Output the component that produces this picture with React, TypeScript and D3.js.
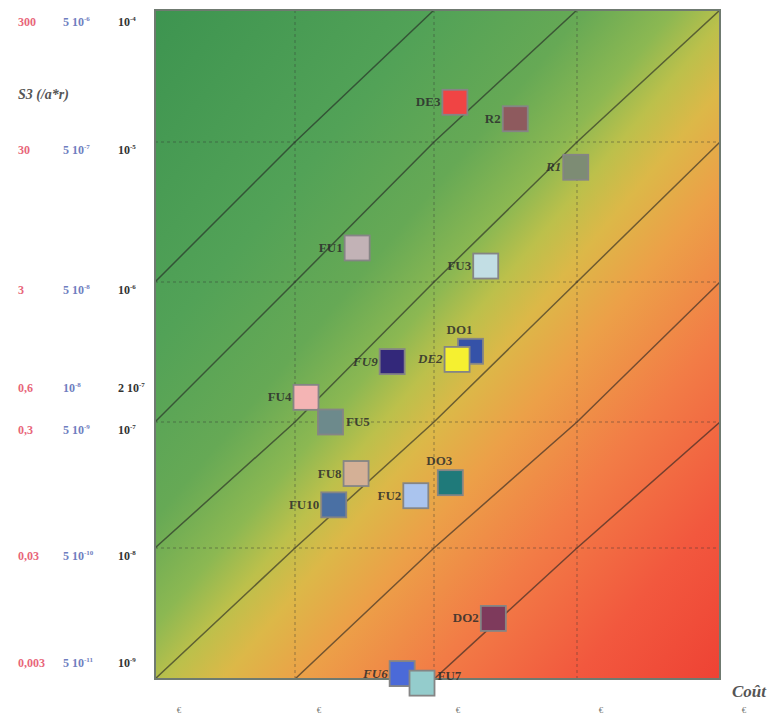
import * as d3 from "d3";
import React from "react";

// options (x) : coût, S3 (y)
const names = ["DE3", "R2", "R1", "FU1", "FU3", "FU9", "DO1", "DE2", "FU4", "FU5", "FU8", "DO3", "FU2", "FU10", "DO2", "FU6", "FU7"];
const costs = [1.4e5, 3.7e5, 9.8e5, 2.8e4, 2.3e5, 5.0e4, 1.8e5, 1.45e5, 1.2e4, 1.8e4, 2.75e4, 1.3e5, 7.4e4, 1.9e4, 2.6e5, 5.9e4, 8.2e4];
const s3 = [2.0e-5, 1.5e-5, 6.6e-6, 1.75e-6, 1.3e-6, 2.7e-7, 3.2e-7, 2.8e-7, 1.5e-7, 1.0e-7, 3.9e-8, 3.3e-8, 2.6e-8, 2.2e-8, 2.9e-9, 1.1e-9, 9.3e-10];
const markerColors = ["#f04444", "#8e5a5e", "#7d8c74", "#c2b2b6", "#c2dee4", "#33287a", "#3552a8", "#f5f030", "#f4b4b4", "#6d8a8c", "#d4b096", "#1f7a7a", "#aac4ee", "#4a70a4", "#7e3a5c", "#4b6ad8", "#94cccc"];
const labelSide = ["left", "left", "left", "left", "left", "left", "top", "left", "left", "right", "left", "top", "left", "left", "left", "left", "right"];
const labelItalic = ["R1", "FU9", "DE2", "FU6"];

// axes
const yTicks = [1e-4, 1e-5, 1e-6, 2e-7, 1e-7, 1e-8, 1e-9];
const redLabels = ["300", "30", "3", "0,6", "0,3", "0,03", "0,003"];
const blueLabels = [["5 10", "-6"], ["5 10", "-7"], ["5 10", "-8"], ["10", "-8"], ["5 10", "-9"], ["5 10", "-10"], ["5 10", "-11"]];
const blackLabels = [["10", "-4"], ["10", "-5"], ["10", "-6"], ["2 10", "-7"], ["10", "-7"], ["10", "-8"], ["10", "-9"]];
const xTicks = [1e3, 1e4, 1e5, 1e6, 1e7];
const xTickLabel = "€";
const isoRatios = [1e-14, 1e-13, 1e-12, 1e-11, 1e-10, 1e-9];

const W = 771, H = 716;
const left = 155, right = 720, top = 10, bottom = 679;

export default function App() {
  const x = d3.scaleLog().domain(xTicks).range([left, 295, 434, 577, right]);
  const y = d3.scaleLog().domain([1e-9, 1e-8, 1e-7, 1e-6, 1e-5, 1e-4]).range([bottom, 548, 422, 282, 142, top]);

  const line = d3.line<[number, number]>().x(d => x(d[0])).y(d => y(d[1]));
  const size = 25;
  const serif = "'Liberation Serif', 'DejaVu Serif', serif";

  return (
    <svg width={W} height={H} style={{ position: "absolute", left: 0, top: 0, background: "#fff" }}>
      <defs>
        <linearGradient id="bg" x1="0" y1="0" x2="1" y2="1">
          <stop offset="0" stopColor="#3d9450" />
          <stop offset="0.25" stopColor="#52a257" />
          <stop offset="0.38" stopColor="#66a955" />
          <stop offset="0.46" stopColor="#8cb852" />
          <stop offset="0.51" stopColor="#bcc04b" />
          <stop offset="0.56" stopColor="#dcb848" />
          <stop offset="0.63" stopColor="#eca048" />
          <stop offset="0.74" stopColor="#f27c46" />
          <stop offset="0.87" stopColor="#f2583e" />
          <stop offset="1" stopColor="#ee4234" />
        </linearGradient>
        <clipPath id="plot">
          <rect x={left} y={top} width={right - left} height={bottom - top} />
        </clipPath>
      </defs>

      <rect x={left} y={top} width={right - left} height={bottom - top} fill="url(#bg)" />

      {/* grid */}
      <g stroke="#333" strokeOpacity={0.45} strokeDasharray="3,3" strokeWidth={1}>
        {xTicks.slice(1, -1).map(v => (
          <line key={"gx" + v} x1={x(v)} x2={x(v)} y1={top} y2={bottom} />
        ))}
        {[1e-5, 1e-6, 1e-7, 1e-8].map(v => (
          <line key={"gy" + v} x1={left} x2={right} y1={y(v)} y2={y(v)} />
        ))}
      </g>

      {/* iso lines */}
      <g clipPath="url(#plot)" fill="none" stroke="#222" strokeOpacity={0.6} strokeWidth={1.5}>
        {isoRatios.map(r => {
          const pts: [number, number][] = d3.range(1, 10).map(k => [Math.pow(10, k), r * Math.pow(10, k)]);
          return <path key={r} d={line(pts) || ""} />;
        })}
      </g>

      <rect x={left} y={top} width={right - left} height={bottom - top} fill="none" stroke="#6f7a70" strokeWidth={2} />

      {/* markers */}
      {names.map((n, i) => {
        const cx = x(costs[i]), cy = y(s3[i]);
        const side = labelSide[i];
        let tx = cx - size / 2 - 2, ty = cy + 4, anchor = "end";
        if (side === "right") { tx = cx + size / 2 + 3; anchor = "start"; }
        if (side === "top") { tx = cx + 2; ty = cy - size / 2 - 5; anchor = "end"; }
        if (n === "FU7") ty = cy - 3;
        return (
          <g key={n}>
            <rect x={cx - size / 2} y={cy - size / 2} width={size} height={size}
              fill={markerColors[i]} stroke="#858585" strokeWidth={1.8} />
            <text x={tx} y={ty} textAnchor={anchor} fontFamily={serif} fontWeight="bold"
              fontStyle={labelItalic.includes(n) ? "italic" : "normal"}
              fontSize={13} fill="#2c2c2c" fillOpacity={0.85}>{n}</text>
          </g>
        );
      })}

      {/* left axis labels */}
      <g fontFamily={serif} fontSize={12} fontWeight="bold">
        {yTicks.map((v, i) => {
          const ty = Math.max(22, Math.min(663, y(v) + 8)) + 4;
          return (
            <g key={"yl" + i}>
              <text x={18} y={ty} fill="#e8667a">{redLabels[i]}</text>
              <text x={63} y={ty} fill="#6f7ec0">
                {blueLabels[i][0]}<tspan fontSize={7} dy={-5}>{blueLabels[i][1]}</tspan>
              </text>
              <text x={118} y={ty} fill="#333">
                {blackLabels[i][0]}<tspan fontSize={7} dy={-5}>{blackLabels[i][1]}</tspan>
              </text>
            </g>
          );
        })}
      </g>
      <text x={18} y={99} fontFamily={serif} fontSize={14} fontStyle="italic" fontWeight="bold" fill="#555">S3 (/a*r)</text>

      {/* bottom axis */}
      {xTicks.map(v => (
        <text key={"xl" + v} x={x(v) + 24} y={713} fontFamily={serif} fontSize={9} fill="#777" textAnchor="middle">{xTickLabel}</text>
      ))}
      <text x={732} y={697} fontFamily={serif} fontSize={17} fontStyle="italic" fontWeight="bold" fill="#555">Coût</text>
    </svg>
  );
}
